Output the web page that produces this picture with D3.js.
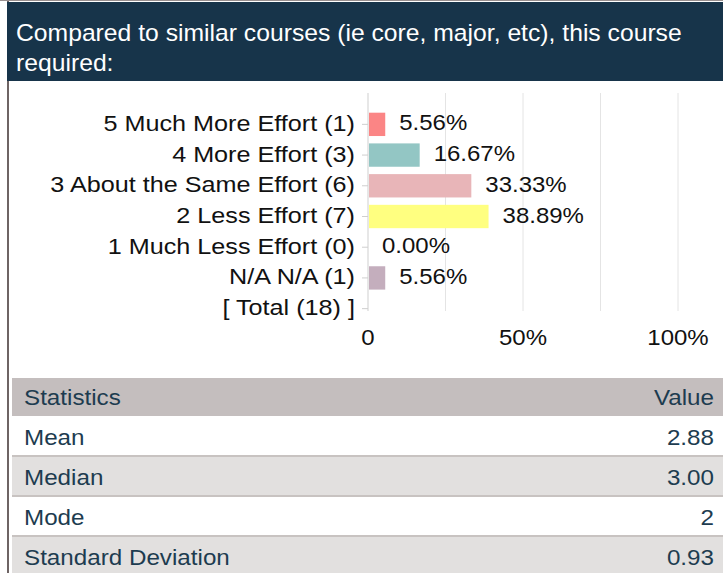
<!DOCTYPE html>
<html>
<head>
<meta charset="utf-8">
<script src="https://cdn.jsdelivr.net/npm/d3@7"></script>
<style>
  body { margin: 0; background: #fff; }
  svg { display: block; font-family: "Liberation Sans", Arial, sans-serif; }
</style>
</head>
<body>
<div id="chart"></div>
<script>
// data
var categories = ["5 Much More Effort (1)", "4 More Effort (3)", "3 About the Same Effort (6)",
    "2 Less Effort (7)", "1 Much Less Effort (0)", "N/A N/A (1)", "[ Total (18) ]"];
var percents = [5.56, 16.67, 33.33, 38.89, 0.00, 5.56, null];
var barColors = ["#fb8585", "#93c6c4", "#e8b5b8", "#ffff80", "#cccccc", "#c4aebd", "none"];
var xTicks = [0, 50, 100];
var gridTicks = [0, 25, 50, 75, 100];
var statNames = ["Mean", "Median", "Mode", "Standard Deviation"];
var statValues = ["2.88", "3.00", "2", "0.93"];

var svgWidth = 723;
var svgHeight = 573;

var svg = d3.select("#chart")
    .append("svg")
    .attr("width", svgWidth)
    .attr("height", svgHeight);

// text at (x,y), squashed a bit vertically like the source picture
function label(parent, x, y, sy) {
    return parent.append("text")
        .attr("transform", `translate(${x}, ${y}) scale(1, ${sy})`);
}

// frame + title bar
svg.append("rect").attr("x", 0).attr("y", 0).attr("width", svgWidth).attr("height", 1).attr("fill", "#9a9090");
svg.append("rect").attr("x", 7).attr("y", 1).attr("width", 2).attr("height", svgHeight).attr("fill", "#6e6464");
svg.append("rect").attr("x", 7).attr("y", 2).attr("width", svgWidth - 7).attr("height", 79).attr("fill", "#17344a");

label(svg, 16, 41, 0.94).attr("fill", "#fff").attr("font-size", "24.7px")
    .text("Compared to similar courses (ie core, major, etc), this course");
label(svg, 16, 71, 0.94).attr("fill", "#fff").attr("font-size", "24.7px")
    .text("required:");

// bar chart
var x = d3.scaleLinear().domain([0, 100]).range([368, 678]);
var y = d3.scaleBand().domain(categories).range([109, 324]).paddingInner(0.24).paddingOuter(0.12);
var mid = d => y(d) + y.bandwidth() / 2;

svg.append("g")
    .selectAll("line")
    .data(gridTicks)
    .enter()
    .append("line")
    .attr("x1", d => x(d))
    .attr("x2", d => x(d))
    .attr("y1", 93)
    .attr("y2", 311)
    .attr("stroke", d => d === 0 ? "#cfcfcf" : "#e4e4e4")
    .attr("stroke-width", 1);

// left ticks
svg.append("g")
    .selectAll("line")
    .data(categories)
    .enter()
    .append("line")
    .attr("x1", x(0) - 6)
    .attr("x2", x(0))
    .attr("y1", d => mid(d))
    .attr("y2", d => mid(d))
    .attr("stroke", "#cfcfcf");

var catLabels = svg.append("g");
categories.forEach(function(c) {
    label(catLabels, 355, mid(c) + 6.5, 0.88)
        .attr("text-anchor", "end")
        .attr("font-size", "25.2px")
        .attr("fill", "#111")
        .text(c);
});

var rows = categories.map((c, i) => ({ cat: c, pct: percents[i], color: barColors[i] }))
    .filter(d => d.pct !== null);

svg.append("g")
    .selectAll("rect")
    .data(rows)
    .enter()
    .append("rect")
    .attr("x", x(0) + 1)
    .attr("y", d => y(d.cat))
    .attr("width", d => Math.max(0, x(d.pct) - x(0) - 1))
    .attr("height", y.bandwidth())
    .attr("fill", d => d.color);

var valLabels = svg.append("g");
rows.forEach(function(d) {
    label(valLabels, x(d.pct) + 14, mid(d.cat) + 6, 0.92)
        .attr("font-size", "24px")
        .attr("fill", "#111")
        .text(d.pct.toFixed(2) + "%");
});

var tickLabels = svg.append("g");
xTicks.forEach(function(t) {
    label(tickLabels, x(t), 345, 0.92)
        .attr("text-anchor", "middle")
        .attr("font-size", "24px")
        .attr("fill", "#111")
        .text(t === 0 ? "0" : t + "%");
});

// statistics table
var tableTop = 378;
var headH = 38;
var rowH = 40;
var tx = 12;

svg.append("rect").attr("x", tx).attr("y", tableTop).attr("width", svgWidth - tx).attr("height", headH).attr("fill", "#c4bebe");
label(svg, 24, tableTop + 27, 0.92).attr("font-size", "24.2px").attr("fill", "#1d3c50").text("Statistics");
label(svg, 714, tableTop + 27, 0.92).attr("text-anchor", "end").attr("font-size", "24.2px").attr("fill", "#1d3c50").text("Value");

statNames.forEach(function(name, i) {
    var top = tableTop + headH + i * rowH;
    svg.append("rect")
        .attr("x", tx)
        .attr("y", top)
        .attr("width", svgWidth - tx)
        .attr("height", rowH)
        .attr("fill", i % 2 === 1 ? "#e2e0df" : "#ffffff");
    if (i > 0) {
        svg.append("rect")
            .attr("x", tx)
            .attr("y", top - 1)
            .attr("width", svgWidth - tx)
            .attr("height", 2)
            .attr("fill", "#c8c3c1");
    }
    label(svg, 24, top + 29, 0.92).attr("font-size", "24.2px").attr("fill", "#1d3c50").text(name);
    label(svg, 714, top + 29, 0.92).attr("text-anchor", "end").attr("font-size", "24.2px").attr("fill", "#1d3c50").text(statValues[i]);
});
</script>
</body>
</html>
